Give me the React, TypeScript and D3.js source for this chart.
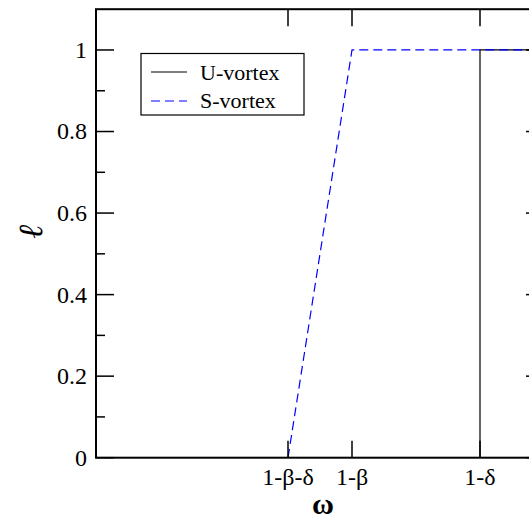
import React from "react";
import * as d3 from "d3";

const xTickValues = [3, 4, 6];
const xTickLabels = ["1-β-δ", "1-β", "1-δ"];
const yTickValues = [0, 0.2, 0.4, 0.6, 0.8, 1];
const yMinorValues = [0.1, 0.3, 0.5, 0.7, 0.9];
const uX = [6, 6, 7];
const uY = [0, 1, 1];
const sX = [3, 4, 7];
const sY = [0, 1, 1];
const seriesNames = ["U-vortex", "S-vortex"];

const W = 529, H = 520;
const left = 96, right = 544, top = 9.2, bottom = 457.7;

export default function App() {
  const x = d3.scaleLinear().domain([0, 7]).range([left, right]);
  const y = d3.scaleLinear().domain([0, 1.1]).range([bottom, top]);
  const line = d3.line<[number, number]>().x(d => x(d[0])).y(d => y(d[1]));
  const uPts = uX.map((v, i) => [v, uY[i]] as [number, number]);
  const sPts = sX.map((v, i) => [v, sY[i]] as [number, number]);
  const fs = { fontFamily: "'Liberation Serif', serif" };
  return (
    <svg width={W} height={H} style={{ position: "absolute", left: 0, top: 0, background: "#fff" }}>
      <rect x={0} y={0} width={W} height={H} fill="#fff" />
      <path d={line(uPts) || ""} fill="none" stroke="#000" strokeWidth={1.2} />
      <path d={line(sPts) || ""} fill="none" stroke="#0000ff" strokeWidth={1.2} strokeDasharray="9,5" />
      <rect x={left} y={top} width={right - left} height={bottom - top} fill="none" stroke="#000" strokeWidth={2} />
      {yTickValues.map(v => (
        <g key={"y" + v}>
          <line x1={left} x2={left + 18} y1={y(v)} y2={y(v)} stroke="#000" strokeWidth={1.5} />
          <line x1={right} x2={right - 18} y1={y(v)} y2={y(v)} stroke="#000" strokeWidth={1.5} />
          <text x={left - 9} y={y(v)} dy="0.33em" textAnchor="end" style={fs} fontSize={24}>{String(v)}</text>
        </g>
      ))}
      {yMinorValues.map(v => (
        <g key={"ym" + v}>
          <line x1={left} x2={left + 9} y1={y(v)} y2={y(v)} stroke="#000" strokeWidth={1.5} />
          <line x1={right} x2={right - 9} y1={y(v)} y2={y(v)} stroke="#000" strokeWidth={1.5} />
        </g>
      ))}
      {xTickValues.map((v, i) => (
        <g key={"x" + v}>
          <line x1={x(v)} x2={x(v)} y1={bottom} y2={bottom - 17} stroke="#000" strokeWidth={1.5} />
          <line x1={x(v)} x2={x(v)} y1={top} y2={top + 17} stroke="#000" strokeWidth={1.5} />
          <text x={x(v)} y={485} textAnchor="middle" style={fs} fontSize={24}>{xTickLabels[i]}</text>
        </g>
      ))}
      <text x={323} y={514} textAnchor="middle" style={fs} fontSize={30} fontWeight="bold">ω</text>
      <text transform="translate(42,232) rotate(-90)" textAnchor="middle" style={fs} fontSize={34} fontStyle="italic">ℓ</text>
      <rect x={141} y={53.5} width={163} height={61.5} fill="#fff" stroke="#000" strokeWidth={1.2} />
      <line x1={151} x2={187} y1={72} y2={72} stroke="#000" strokeWidth={1.2} />
      <line x1={151} x2={187} y1={101} y2={101} stroke="#0000ff" strokeWidth={1.2} strokeDasharray="9,5" />
      <text x={200} y={79.5} style={fs} fontSize={22}>{seriesNames[0]}</text>
      <text x={200} y={108} style={fs} fontSize={22}>{seriesNames[1]}</text>
    </svg>
  );
}
